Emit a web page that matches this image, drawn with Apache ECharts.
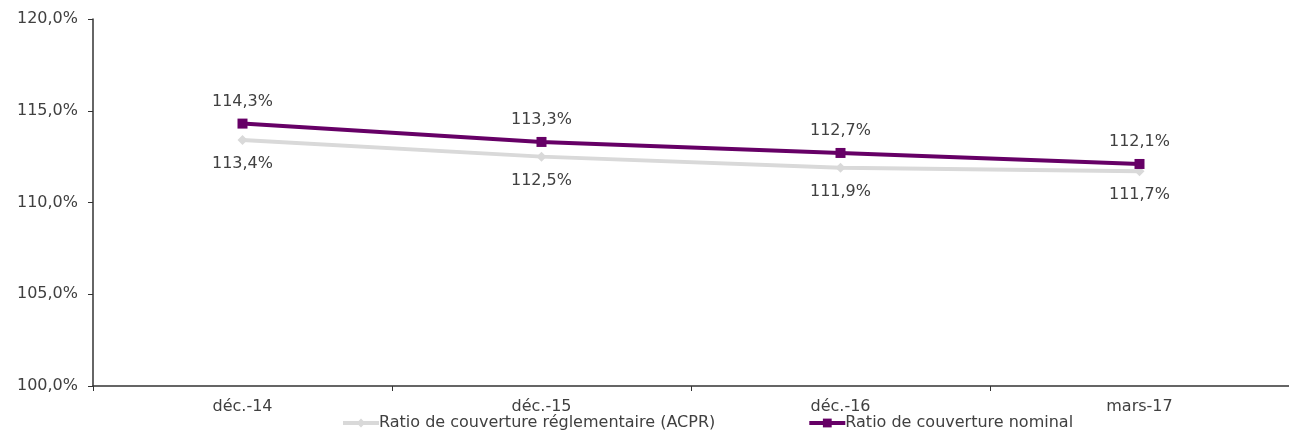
<!DOCTYPE html>
<html>
<head>
<meta charset="utf-8">
<script src="https://cdn.jsdelivr.net/npm/echarts@6/dist/echarts.min.js"></script>
<style>
  html, body { margin: 0; padding: 0; background: #ffffff; }
  #chart { width: 1289px; height: 436px; }
</style>
</head>
<body>
<div id="chart"></div>
<script>
// Periods on the horizontal axis
const categories = ['déc.-14', 'déc.-15', 'déc.-16', 'mars-17'];
// Coverage ratios, in percent
const acprRatio = [113.4, 112.5, 111.9, 111.7];
const nominalRatio = [114.3, 113.3, 112.7, 112.1];
const seriesNames = ['Ratio de couverture réglementaire (ACPR)', 'Ratio de couverture nominal'];

const FONT = 'DejaVu Sans';
const TEXT = '#404040';
const SIZE = 16;
const fmt = v => v.toFixed(1).replace('.', ',') + '%';

const chart = echarts.init(document.getElementById('chart'), null, { renderer: 'canvas' });
chart.setOption({
  animation: false,
  backgroundColor: '#ffffff',
  grid: { left: 93, right: -8, top: 19, bottom: 50 },
  legend: {
    bottom: 0,
    left: 336,
    itemWidth: 36,
    itemHeight: 11,
    itemGap: 92,
    lineStyle: { width: 4 },
    textStyle: { fontFamily: FONT, fontSize: SIZE, color: TEXT, padding: [0, 0, 0, -5] },
    data: seriesNames
  },
  xAxis: {
    type: 'category',
    data: categories,
    boundaryGap: true,
    axisLine: { lineStyle: { color: '#333333', width: 1.5 } },
    axisTick: { show: true, length: 5, lineStyle: { color: '#333333' } },
    axisLabel: { fontFamily: FONT, fontSize: SIZE, color: TEXT, margin: 13 },
    splitLine: { show: false }
  },
  yAxis: {
    type: 'value',
    min: 100,
    max: 120,
    interval: 5,
    axisLine: { show: true, lineStyle: { color: '#333333', width: 1.5 } },
    axisTick: { show: true, length: 5, lineStyle: { color: '#333333' } },
    axisLabel: { fontFamily: FONT, fontSize: SIZE, color: TEXT, margin: 15, formatter: fmt },
    splitLine: { show: false }
  },
  series: [
    {
      name: seriesNames[0],
      type: 'line',
      data: acprRatio,
      symbol: 'diamond',
      symbolSize: 10,
      itemStyle: { color: '#d9d9d9' },
      lineStyle: { color: '#d9d9d9', width: 4 },
      label: {
        show: true, position: 'bottom', distance: 11,
        fontFamily: FONT, fontSize: SIZE, color: TEXT,
        formatter: p => fmt(p.value)
      },
      z: 2
    },
    {
      name: seriesNames[1],
      type: 'line',
      data: nominalRatio,
      symbol: 'rect',
      symbolSize: 10,
      itemStyle: { color: '#660066' },
      lineStyle: { color: '#660066', width: 4 },
      label: {
        show: true, position: 'top', distance: 9,
        fontFamily: FONT, fontSize: SIZE, color: TEXT,
        formatter: p => fmt(p.value)
      },
      z: 3
    }
  ]
});
</script>
</body>
</html>
